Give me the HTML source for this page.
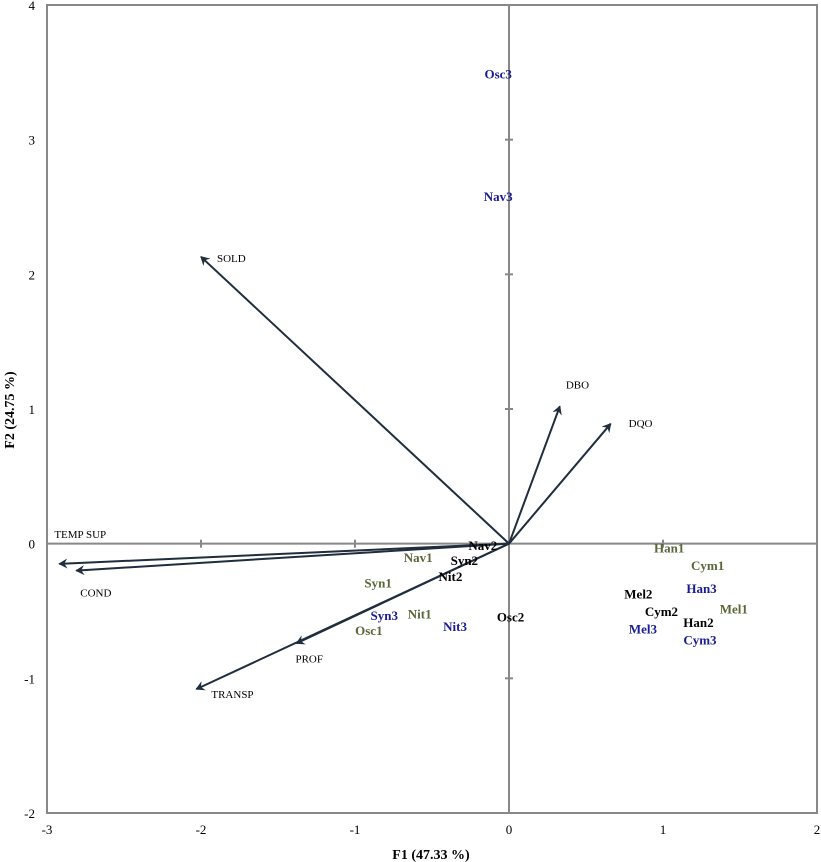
<!DOCTYPE html>
<html><head><meta charset="utf-8"><style>
body{margin:0;background:#fff}
svg{display:block;font-family:"Liberation Serif",serif}
</style></head><body>
<svg id="c" width="821" height="862"></svg>
<script>
const xTicks=[-3,-2,-1,0,1,2];
const yTicks=[-2,-1,0,1,2,3,4];
const varNames=["TEMP SUP","COND","PROF","TRANSP","SOLD","DBO","DQO"];
const varX=[-2.92,-2.81,-1.38,-2.03,-2.0,0.33,0.66];
const varY=[-0.15,-0.20,-0.74,-1.08,2.13,1.02,0.89];
const obsNames=["Osc3","Nav3","Nav2","Nav1","Syn2","Nit2","Syn1","Syn3","Nit1","Osc1","Nit3","Osc2","Han1","Cym1","Han3","Mel2","Mel1","Cym2","Han2","Mel3","Cym3"];
const obsX=[-0.07,-0.07,-0.17,-0.59,-0.29,-0.38,-0.85,-0.81,-0.58,-0.91,-0.35,0.01,1.04,1.29,1.25,0.84,1.46,0.99,1.23,0.87,1.24];
const obsY=[3.49,2.58,-0.01,-0.10,-0.12,-0.24,-0.29,-0.53,-0.52,-0.64,-0.61,-0.54,-0.03,-0.16,-0.33,-0.37,-0.48,-0.50,-0.58,-0.63,-0.71];
const obsGroup=[3,3,2,1,2,2,1,3,1,1,3,2,1,1,3,2,1,2,2,3,3];
const lblDx=[-5,4,-1,15,16,6,18], lblDy=[-30,22,15,5,1,-22,-1];

const X0=47,X1=817,Y0=813,Y1=5;
const sx=v=>X0+(v-(-3))/5*(X1-X0);
const sy=v=>Y0-(v-(-2))/6*(Y0-Y1);
const svg=document.getElementById('c');
const NS='http://www.w3.org/2000/svg';
function mk(t,a,txt){const e=document.createElementNS(NS,t);for(const k in a)e.setAttribute(k,a[k]);if(txt!=null)e.textContent=txt;svg.appendChild(e);return e;}
const defs=document.createElementNS(NS,'defs');
defs.innerHTML='<marker id="ah" markerWidth="10" markerHeight="10" refX="8" refY="5" orient="auto" markerUnits="userSpaceOnUse"><path d="M0,0 L9,5 L0,10 L3,5 Z" fill="#1f2d3d"/></marker>';
svg.appendChild(defs);

let r=mk('rect',{x:X0,y:Y1,width:X1-X0,height:Y0-Y1,fill:'none',stroke:'#888',"stroke-width":2});


let l=mk('line',{x1:X0,x2:X1,y1:sy(0),y2:sy(0),stroke:'#888',"stroke-width":2});


l=mk('line',{x1:sx(0),x2:sx(0),y1:Y1,y2:Y0,stroke:'#888',"stroke-width":2});



xTicks.forEach(v=>{
  const t=mk('text',{x:sx(v),y:834,"text-anchor":"middle","font-size":13},String(v));
  
  
  if(v>-3&&v<2&&v!==0){const k=mk('line',{x1:sx(v),x2:sx(v),y1:sy(0)-4,y2:sy(0)+4,stroke:'#888',"stroke-width":2});
  
  }
});
yTicks.forEach(v=>{
  const t=mk('text',{x:35,y:sy(v)+5,"text-anchor":"end","font-size":13},String(v));
  
  
  if(v>-2&&v<4&&v!==0){const k=mk('line',{x1:sx(0)-4,x2:sx(0)+4,y1:sy(v),y2:sy(v),stroke:'#888',"stroke-width":2});
  
  }
});
let t=mk('text',{x:431,y:859,"text-anchor":"middle","font-size":14,"font-weight":"bold"},'F1 (47.33 %)');


t=mk('text',{x:0,y:0,"text-anchor":"middle","font-size":14,"font-weight":"bold",transform:'translate(14,410) rotate(-90)'},'F2 (24.75 %)');



varNames.forEach((n,i)=>{
  const a=mk('line',{x1:sx(0),y1:sy(0),x2:sx(varX[i]),y2:sy(varY[i]),stroke:'#1f2d3d',"stroke-width":2,"marker-end":"url(#ah)"});
  
  
  const tl=mk('text',{x:sx(varX[i])+lblDx[i],y:sy(varY[i])+lblDy[i]+4,"font-size":11},n);
  
  
});
const cols={1:'#5b6639',2:'#000',3:'#1a1a96'};
obsNames.forEach((n,i)=>{
  const o=mk('text',{x:sx(obsX[i]),y:sy(obsY[i])+5,"text-anchor":"middle","font-size":13,"font-weight":"bold",fill:cols[obsGroup[i]]},n);
  
  
});
</script>
</body></html>
